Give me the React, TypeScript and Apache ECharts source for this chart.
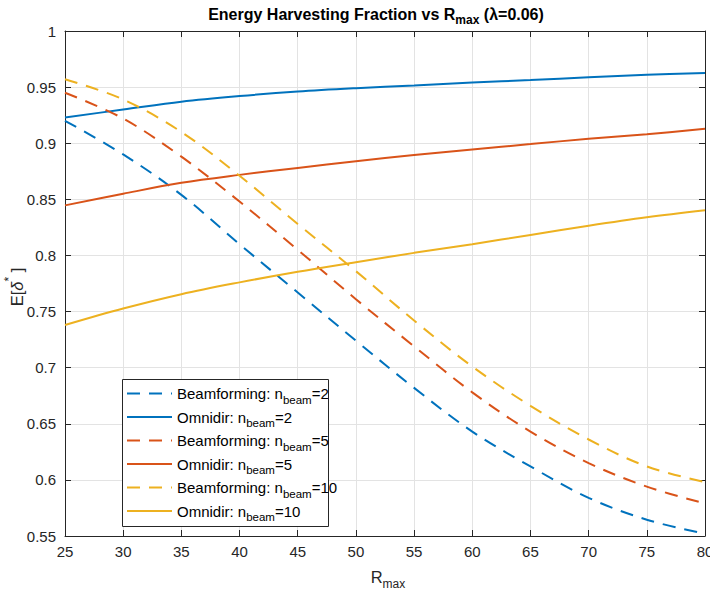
import React, { useEffect, useRef } from 'react';
import * as echarts from 'echarts';

// ---- data ----
const R = [25, 30, 35, 40, 45, 50, 55, 60, 65, 70, 75, 80];
const beam2 = [0.920, 0.890, 0.854, 0.810, 0.767, 0.724, 0.682, 0.643, 0.612, 0.584, 0.5645, 0.552];
const omni2 = [0.923, 0.930, 0.937, 0.942, 0.946, 0.949, 0.9515, 0.954, 0.9563, 0.9587, 0.961, 0.9625];
const beam5 = [0.945, 0.922, 0.888, 0.848, 0.805, 0.761, 0.719, 0.678, 0.643, 0.615, 0.594, 0.579];
const omni5 = [0.8446, 0.855, 0.8647, 0.8718, 0.878, 0.884, 0.8895, 0.8945, 0.8992, 0.904, 0.908, 0.9128];
const beam10 = [0.957, 0.939, 0.910, 0.871, 0.828, 0.786, 0.742, 0.701, 0.666, 0.636, 0.612, 0.598];
const omni10 = [0.738, 0.7527, 0.7655, 0.776, 0.7855, 0.794, 0.8023, 0.81, 0.8183, 0.8265, 0.834, 0.8403];
const nBeams = [2, 5, 10];
const xTicks = [25, 30, 35, 40, 45, 50, 55, 60, 65, 70, 75, 80];
const yTicks = [0.55, 0.6, 0.65, 0.7, 0.75, 0.8, 0.85, 0.9, 0.95, 1];

const COLORS = ['#0072BD', '#D95319', '#EDB120'];
const FONT = '"Liberation Sans", Arial, Helvetica, sans-serif';
const AX = '#262626';
const DASH = [13, 9];

let mctx: CanvasRenderingContext2D | null = null;
function measure(t: string, size: number, bold?: boolean, italic?: boolean) {
  if (!mctx) mctx = document.createElement('canvas').getContext('2d');
  mctx!.font = `${italic ? 'italic ' : ''}${bold ? 'bold ' : ''}${size}px ${FONT}`;
  return mctx!.measureText(t).width;
}
type Seg = { t: string; size: number; bold?: boolean; italic?: boolean; dy?: number };
function runText(segs: Seg[], x0: number, y0: number, align: 'left' | 'center', fill: string, z = 50) {
  const widths = segs.map((s) => measure(s.t, s.size, s.bold, s.italic));
  const total = widths.reduce((a, b) => a + b, 0);
  let x = align === 'center' ? x0 - total / 2 : x0;
  return segs.map((s, i) => {
    const el = {
      type: 'text',
      x,
      y: y0 + (s.dy || 0),
      z,
      silent: true,
      style: {
        text: s.t,
        fill,
        fontSize: s.size,
        fontFamily: FONT,
        fontWeight: s.bold ? 'bold' : 'normal',
        fontStyle: s.italic ? 'italic' : 'normal',
        align: 'left',
        verticalAlign: 'middle',
        textAlign: 'left',
        textVerticalAlign: 'middle',
      },
    };
    x += widths[i];
    return el;
  });
}

export default function App() {
  const ref = useRef<HTMLDivElement>(null);
  useEffect(() => {
    if (!ref.current) return;
    const chart = echarts.init(ref.current, undefined, { renderer: 'svg' });
    const groups = [
      { n: nBeams[0], bf: beam2, om: omni2 },
      { n: nBeams[1], bf: beam5, om: omni5 },
      { n: nBeams[2], bf: beam10, om: omni10 },
    ];
    const defs: { name: string; prefix: string; n: number; color: string; dashed: boolean; vals: number[] }[] = [];
    groups.forEach((g, i) => {
      defs.push({ name: `Beamforming: n_beam=${g.n}`, prefix: 'Beamforming: n', n: g.n, color: COLORS[i], dashed: true, vals: g.bf });
      defs.push({ name: `Omnidir: n_beam=${g.n}`, prefix: 'Omnidir: n', n: g.n, color: COLORS[i], dashed: false, vals: g.om });
    });

    const series = defs.map((d) => ({
      type: 'line',
      name: d.name,
      data: R.map((r, k) => [r, d.vals[k]]),
      symbol: 'none',
      smooth: 0.35,
      lineStyle: { color: d.color, width: 2, type: d.dashed ? DASH : 'solid' },
      itemStyle: { color: d.color },
      xAxisIndex: 0,
      yAxisIndex: 0,
      z: 3,
    }));

    const xInt = xTicks[1] - xTicks[0];
    const yInt = Math.round((yTicks[1] - yTicks[0]) * 1000) / 1000;

    // legend graphics
    const legX = 122, legY = 379, legW = 206, legH = 147;
    const legend: any[] = [
      { type: 'rect', z: 60, shape: { x: legX + 0.5, y: legY + 0.5, width: legW, height: legH }, style: { fill: '#fff', stroke: AX, lineWidth: 1 } },
    ];
    defs.forEach((d, i) => {
      const y = 393.5 + i * 23.5;
      legend.push({
        type: 'line', z: 61, silent: true,
        shape: { x1: 127, y1: y, x2: 172, y2: y },
        style: { stroke: d.color, lineWidth: 2, lineDash: d.dashed ? DASH : null },
      });
      legend.push(
        ...runText(
          [
            { t: d.prefix, size: 15 },
            { t: 'beam', size: 11.5, dy: 6 },
            { t: `=${d.n}`, size: 15 },
          ],
          177, y, 'left', '#000', 62,
        ),
      );
    });

    const title = runText(
      [
        { t: 'Energy Harvesting Fraction vs R', size: 16, bold: true },
        { t: 'max', size: 12, bold: true, dy: 6 },
        { t: ' (\u03bb=0.06)', size: 16, bold: true },
      ],
      376, 14, 'center', '#000',
    );
    const xName = runText(
      [
        { t: 'R', size: 16.5 },
        { t: 'max', size: 12, dy: 7 },
      ],
      388, 577, 'center', AX,
    );
    const yName = {
      type: 'group',
      x: 17,
      y: 287,
      rotation: Math.PI / 2,
      children: runText(
        [
          { t: 'E[', size: 16.5 },
          { t: '\u03b4', size: 16.5, italic: true },
          { t: '*', size: 12, dy: -8 },
          { t: ' ]', size: 16.5 },
        ],
        0, 0, 'center', AX,
      ),
    };

    const axisCommon = {
      type: 'value',
      axisLine: { show: true, onZero: false, lineStyle: { color: AX, width: 1 } },
      axisTick: { show: true, inside: true, length: 6, lineStyle: { color: AX, width: 1 } },
    };

    chart.setOption({
      animation: false,
      backgroundColor: '#fff',
      grid: { left: 65, right: 5, top: 31, bottom: 57, containLabel: false, outerBoundsMode: 'none' },
      xAxis: [
        {
          ...axisCommon,
          position: 'bottom',
          min: xTicks[0],
          max: xTicks[xTicks.length - 1],
          interval: xInt,
          axisLabel: { show: true, color: AX, fontSize: 15, fontFamily: FONT, margin: 8 },
          splitLine: { show: true, lineStyle: { color: '#e3e3e3', width: 1 } },
        },
        {
          ...axisCommon,
          position: 'top',
          min: xTicks[0],
          max: xTicks[xTicks.length - 1],
          interval: xInt,
          axisLabel: { show: false },
          splitLine: { show: false },
        },
      ],
      yAxis: [
        {
          ...axisCommon,
          position: 'left',
          min: yTicks[0],
          max: yTicks[yTicks.length - 1],
          interval: yInt,
          axisLabel: {
            show: true, color: AX, fontSize: 15, fontFamily: FONT, margin: 9,
            formatter: (v: number) => String(parseFloat(v.toFixed(2))),
          },
          splitLine: { show: true, lineStyle: { color: '#e3e3e3', width: 1 } },
        },
        {
          ...axisCommon,
          position: 'right',
          min: yTicks[0],
          max: yTicks[yTicks.length - 1],
          interval: yInt,
          axisLabel: { show: false },
          splitLine: { show: false },
        },
      ],
      series,
      graphic: [...title, ...xName, yName, ...legend],
    });
    return () => chart.dispose();
  }, []);
  return (
    <div
      ref={ref}
      style={{ position: 'fixed', left: 0, top: 0, width: 710, height: 593, background: '#fff' }}
    />
  );
}
